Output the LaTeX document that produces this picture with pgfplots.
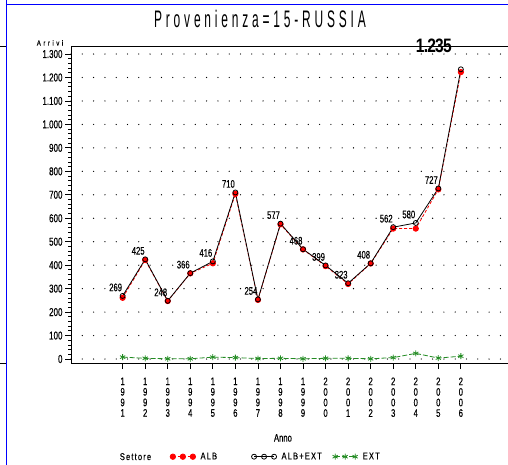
\documentclass[border=0pt]{standalone}
\usepackage{fontspec}
\usepackage{pgfplots}
\pgfplotsset{compat=1.18}
\setmainfont{Liberation Sans}
\newfontfamily\sasfont[FakeStretch=0.7,FakeBold=0.4]{Liberation Sans}
\newfontfamily\titlefont[FakeStretch=0.5,LetterSpace=16]{Liberation Sans}
\newfontfamily\smallsp[FakeStretch=0.8,LetterSpace=34,FakeBold=0.3]{Liberation Sans}
\newfontfamily\legfont[FakeStretch=0.75,LetterSpace=12,FakeBold=0.3]{Liberation Sans}
\newfontfamily\boldlab[FakeStretch=0.8,LetterSpace=-4]{Liberation Sans}
\definecolor{sasgreen}{RGB}{34,139,34}
\definecolor{sasblue}{RGB}{0,0,255}
\begin{document}
\begin{tikzpicture}
\useasboundingbox (-71bp,-102bp) rectangle (437bp,363bp);
\draw[sasblue, line width=1.3bp] (-64.3bp,363bp) -- (-64.3bp,-102bp);
\draw[sasblue, line width=1.3bp] (-65bp,358.7bp) -- (437bp,358.7bp);
\draw[line width=1bp] (-71bp,316bp) -- (-65bp,316bp);
\draw[line width=1bp] (-71bp,0bp) -- (-65bp,0bp);
\begin{axis}[
  scale only axis, width=437bp, height=316bp,
  xmin=1988.71, xmax=2008.09, ymin=-17, ymax=1330,
  clip=false,
  axis x line=bottom, axis y line=left,
  axis line style={-, line width=1bp},
  tick align=outside,
  major tick length=6bp, minor tick length=3bp,
  every tick/.style={black, line width=0.8bp},
  xtick={1991,...,2006},
  xticklabels={{1\\9\\9\\1},{1\\9\\9\\2},{1\\9\\9\\3},{1\\9\\9\\4},{1\\9\\9\\5},{1\\9\\9\\6},{1\\9\\9\\7},{1\\9\\9\\8},{1\\9\\9\\9},{2\\0\\0\\0},{2\\0\\0\\1},{2\\0\\0\\2},{2\\0\\0\\3},{2\\0\\0\\4},{2\\0\\0\\5},{2\\0\\0\\6}},
  minor x tick num=3,
  ytick={0,100,...,1300},
  minor y tick num=4,
  /pgf/number format/1000 sep={.},
  /pgf/number format/assume math mode=true,
  xticklabel style={align=center, font=\sasfont\fontsize{11}{10.6}\selectfont, yshift=-5bp},
  yticklabel style={font=\sasfont\fontsize{11.5}{12}\selectfont, xshift=1bp},
  ymajorgrids,
  major grid style={line width=1.3bp, dash pattern=on 0bp off 11.3bp, line cap=round, black},
  every axis x label/.style={at={(axis description cs:0.485,-0.237)}, anchor=center},
  every axis y label/.style={at={(axis description cs:-0.048,1.013)}, anchor=center},
  xlabel={\sasfont\fontsize{11}{12}\selectfont Anno},
  ylabel={\smallsp\fontsize{7.5}{9}\selectfont Arrivi},
  legend columns=-1,
  legend style={at={(axis description cs:0.2265,-0.2965)}, anchor=west, draw=none, fill=none, inner sep=0pt,
    nodes={inner sep=0pt, text width=51bp, align=left, font=\legfont\fontsize{10}{12}\selectfont},
    /tikz/every odd column/.append style={column sep=5bp}},
  legend image code/.code={\draw[mark repeat=1,mark phase=1,#1] plot coordinates {(0bp,0bp) (10bp,0bp) (20bp,0bp)};},
]
\addplot[red, line width=0.8bp, dash pattern=on 3bp off 2bp, mark=*, mark size=2.7bp, mark options={solid, fill=red}]
 coordinates {(1991,261) (1992,422) (1993,247) (1994,365) (1995,408) (1996,704) (1997,252) (1998,574) (1999,467) (2000,396) (2001,320) (2002,407) (2003,556) (2004,556) (2005,723) (2006,1223)};
\addlegendentry{ALB}
\addplot[black, line width=0.8bp, mark=o, mark size=2.5bp, mark options={solid}]
 coordinates {(1991,269) (1992,425) (1993,248) (1994,366) (1995,416) (1996,710) (1997,254) (1998,577) (1999,468) (2000,399) (2001,323) (2002,408) (2003,562) (2004,580) (2005,727) (2006,1235)};
\addlegendentry{ALB+EXT}
\addplot[sasgreen, line width=0.8bp, dash pattern=on 5bp off 2bp, mark=asterisk, mark size=3bp, mark options={solid}]
 coordinates {(1991,8) (1992,3) (1993,1) (1994,1) (1995,8) (1996,6) (1997,2) (1998,3) (1999,1) (2000,3) (2001,3) (2002,1) (2003,6) (2004,24) (2005,4) (2006,12)};
\addlegendentry{EXT}
\addplot[draw=none, mark=none, forget plot, nodes near coords, point meta=explicit symbolic,
  every node near coord/.style={font=\sasfont\fontsize{11}{12}\selectfont, anchor=center, xshift=-7bp, yshift=8.5bp, inner sep=0pt}]
 coordinates {(1991,269)[269] (1992,425)[425] (1993,248)[248] (1994,366)[366] (1995,416)[416] (1996,710)[710] (1997,254)[254] (1998,577)[577] (1999,468)[468] (2000,399)[399] (2001,323)[323] (2002,408)[408] (2003,562)[562] (2004,580)[580] (2005,727)[727]};
\draw[line width=1bp] (rel axis cs:0,1) -- (rel axis cs:1,1);
\node[font=\boldlab\bfseries\fontsize{19.5}{20}\selectfont, inner sep=0pt] at (axis cs:2004.8,1333) {1.235};
\node[font=\titlefont\fontsize{24}{26}\selectfont, inner sep=0pt] at (axis description cs:0.4325,1.090) {Provenienza=15-RUSSIA};
\node[font=\legfont\fontsize{10}{12}\selectfont, inner sep=0pt] at (axis description cs:0.1476,-0.2965) {Settore};
\end{axis}
\end{tikzpicture}
\end{document}
